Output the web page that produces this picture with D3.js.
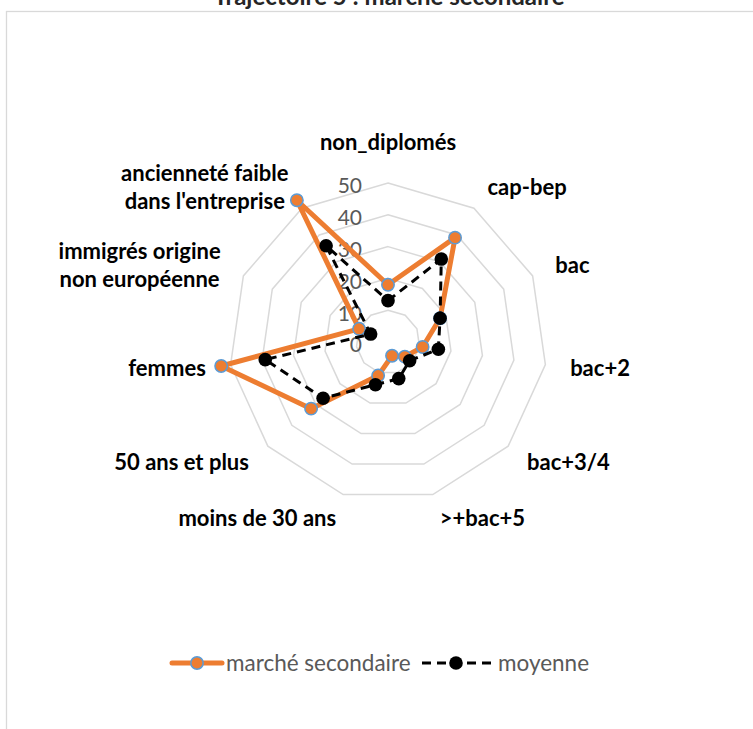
<!DOCTYPE html>
<html>
<head>
<meta charset="utf-8">
<title>Trajectoire 5 : marché secondaire</title>
<script src="https://cdn.jsdelivr.net/npm/d3@7"></script>
<style>
  body { margin: 0; background: #fff; }
  svg { display: block; font-family: Lato, "Open Sans", sans-serif; }
</style>
</head>
<body>
<svg id="chart" width="753" height="729"></svg>
<script>

// DATA
var categories = ["non_diplomés", "cap-bep", "bac", "bac+2", "bac+3/4", ">+bac+5",
                  "moins de 30 ans", "50 ans et plus", "femmes",
                  "immigrés origine\nnon européenne", "ancienneté faible\ndans l'entreprise"];
var secondaire = [18, 39, 18, 11, 7, 4.5, 11, 32, 53, 10, 53];
var moyenne    = [13, 31, 18, 16, 9, 12, 14, 27, 39, 6, 36];
var ticks = [0, 10, 20, 30, 40, 50];
var seriesNames = ["marché secondaire", "moyenne"];
var title = "Trajectoire 5 : marché secondaire";

// LAYOUT
var cx = 388, cy = 342, R = 159;
var orange = "#ED7D31", blue = "#5B9BD5", grid = "#d9d9d9", gray = "#595959";

var svg = d3.select("#chart");

// chart border (runs off the right / bottom of the picture)
svg.append("rect")
  .attr("x", 6.5).attr("y", 11.5)
  .attr("width", 800).attr("height", 800)
  .attr("fill", "none").attr("stroke", grid).attr("stroke-width", 1.3);

// title is cropped at the top edge, as in the original picture
svg.append("text")
  .attr("x", 389).attr("y", 5)
  .attr("text-anchor", "middle")
  .attr("font-weight", "bold").attr("font-size", 24)
  .attr("fill", "#262626")
  .text(title);

var r = d3.scaleLinear().domain([0, 50]).range([0, R]);
var angle = d3.scaleLinear().domain([0, categories.length]).range([0, 2 * Math.PI]);

var g = svg.append("g").attr("transform", "translate(" + cx + "," + cy + ")");

// RINGS
var ring = d3.lineRadial()
  .angle(function(d, i) { return angle(i); })
  .radius(function(d) { return r(d); })
  .curve(d3.curveLinearClosed);

ticks.filter(function(t) { return t > 0; }).forEach(function(t) {
  g.append("path")
    .attr("d", ring(categories.map(function() { return t; })))
    .attr("fill", "none").attr("stroke", grid).attr("stroke-width", 1.5);
});

// TICK LABELS
g.selectAll(".tick").data(ticks).enter().append("text")
  .attr("class", "tick")
  .attr("x", -26)
  .attr("y", function(d) { return -r(d) + 3; })
  .attr("dy", "0.35em")
  .attr("text-anchor", "end")
  .attr("font-size", 21).attr("fill", gray)
  .text(function(d) { return d; });

// CATEGORY LABELS
var labelR = 184, lineH = 28;
categories.forEach(function(c, i) {
  var a = angle(i), s = Math.sin(a), co = Math.cos(a);
  var lines = c.split("\n");
  var texts = lines.map(function(l) {
    return g.append("text").attr("font-weight", "bold").attr("font-size", 22)
      .attr("fill", "#000").attr("text-anchor", "middle").text(l);
  });
  var w = d3.max(texts, function(t) { return t.node().getComputedTextLength(); });
  var h = lines.length * lineH;
  var px = s * labelR, py = -co * labelR;
  var lx = Math.abs(s) < 0.1 ? px : (s > 0 ? px + w / 2 : px - w / 2);
  var ly = py;
  if (Math.abs(s) < 0.1) ly = py - (co > 0 ? 1 : -1) * (h / 2 + 2);
  texts.forEach(function(t, k) {
    t.attr("x", lx).attr("y", ly - h / 2 + lineH * (k + 0.5)).attr("dy", "0.35em");
  });
});

// SERIES
var line = d3.lineRadial()
  .angle(function(d, i) { return angle(i); })
  .radius(function(d) { return r(d); })
  .curve(d3.curveLinearClosed);

function pt(d, i) {
  return [Math.sin(angle(i)) * r(d), -Math.cos(angle(i)) * r(d)];
}

g.append("path").attr("d", line(secondaire))
  .attr("fill", "none").attr("stroke", orange).attr("stroke-width", 5)
  .attr("stroke-linejoin", "round");
g.selectAll(".m1").data(secondaire).enter().append("circle")
  .attr("class", "m1")
  .attr("cx", function(d, i) { return pt(d, i)[0]; })
  .attr("cy", function(d, i) { return pt(d, i)[1]; })
  .attr("r", 6.2).attr("fill", orange).attr("stroke", blue).attr("stroke-width", 1.5);

g.append("path").attr("d", line(moyenne))
  .attr("fill", "none").attr("stroke", "#000").attr("stroke-width", 3)
  .attr("stroke-dasharray", "9,6");
g.selectAll(".m2").data(moyenne).enter().append("circle")
  .attr("class", "m2")
  .attr("cx", function(d, i) { return pt(d, i)[0]; })
  .attr("cy", function(d, i) { return pt(d, i)[1]; })
  .attr("r", 6.8).attr("fill", "#000");

// LEGEND
var ly = 663;
var leg = svg.append("g");
leg.append("line").attr("x1", 172).attr("x2", 222).attr("y1", ly).attr("y2", ly)
  .attr("stroke", orange).attr("stroke-width", 5).attr("stroke-linecap", "round");
leg.append("circle").attr("cx", 197).attr("cy", ly).attr("r", 6.2)
  .attr("fill", orange).attr("stroke", blue).attr("stroke-width", 1.5);
leg.append("text").attr("x", 226).attr("y", ly).attr("dy", "0.35em")
  .attr("font-size", 22.5).attr("fill", gray).text(seriesNames[0]);

leg.append("line").attr("x1", 422).attr("x2", 491).attr("y1", ly).attr("y2", ly)
  .attr("stroke", "#000").attr("stroke-width", 3).attr("stroke-dasharray", "9,6");
leg.append("circle").attr("cx", 456).attr("cy", ly).attr("r", 6.8).attr("fill", "#000");
leg.append("text").attr("x", 498).attr("y", ly).attr("dy", "0.35em")
  .attr("font-size", 22.5).attr("fill", gray).text(seriesNames[1]);

</script>
</body>
</html>
